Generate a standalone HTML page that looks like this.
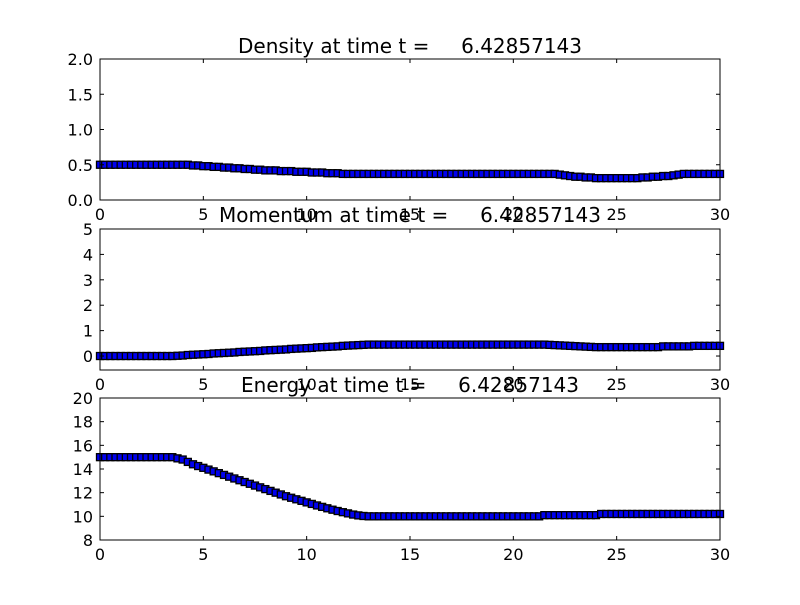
<!DOCTYPE html>
<html><head><meta charset="utf-8"><style>
body{margin:0;background:#fff}
svg text{font-family:"DejaVu Sans","Liberation Sans",sans-serif;fill:#000}
</style></head><body>
<svg id="c" width="800" height="600" xmlns="http://www.w3.org/2000/svg"></svg>
<script>
const density=[0.5,0.5,0.5,0.5,0.5,0.5,0.5,0.5,0.5,0.5,0.5,0.5,0.5,0.5,0.5,0.5,
0.50,0.50,0.49,0.49,0.48,0.48,0.47,0.47,0.46,0.46,0.45,0.45,0.44,0.44,0.43,0.43,0.42,0.42,0.42,0.41,0.41,0.41,0.40,0.40,0.40,0.39,0.39,0.39,0.38,0.38,0.38,0.37,0.37,
0.37,0.37,0.37,0.37,0.37,0.37,0.37,0.37,0.37,0.37,0.37,0.37,0.37,0.37,0.37,0.37,0.37,0.37,0.37,0.37,0.37,0.37,0.37,0.37,0.37,0.37,0.37,0.37,0.37,0.37,0.37,0.37,0.37,0.37,0.37,0.37,0.37,0.37,0.37,0.37,
0.36,0.35,0.34,0.33,0.33,0.32,0.32,0.31,
0.31,0.31,0.31,0.31,0.31,0.31,0.31,0.31,
0.32,0.32,0.33,0.33,0.34,0.34,0.35,0.36,
0.37,0.37,0.37,0.37,0.37,0.37,0.37,0.37];
const momentum=[0,0,0,0,0,0,0,0,0,0,0,0,0,0,0,
0.01,0.02,0.04,0.05,0.06,0.07,0.08,0.10,0.11,0.12,0.13,0.14,0.16,0.17,0.18,0.19,0.20,0.22,0.23,0.24,0.25,0.26,0.28,0.29,0.30,0.31,0.32,0.34,0.35,0.36,0.37,0.38,0.40,0.41,0.42,0.43,0.44,0.45,
0.45,0.45,0.45,0.45,0.45,0.45,0.45,0.45,0.45,0.45,0.45,0.45,0.45,0.45,0.45,0.45,0.45,0.45,0.45,0.45,0.45,0.45,0.45,0.45,0.45,0.45,0.45,0.45,0.45,0.45,0.45,0.45,0.45,0.45,
0.44,0.43,0.42,0.41,0.40,0.39,0.38,0.37,0.36,0.35,
0.35,0.35,0.35,0.35,0.35,0.35,0.35,0.35,0.35,0.35,0.35,0.35,
0.38,0.38,0.38,0.38,0.38,0.38,0.40,0.40,0.40,0.40,0.40,0.40];
const energy=[15,15,15,15,15,15,15,15,15,15,15,15,15,15,15,
14.9,14.8,14.6,14.4,14.25,14.1,13.95,13.8,13.65,13.5,13.35,13.2,13.05,12.9,12.75,12.6,12.45,12.3,12.15,12.0,11.85,11.7,11.57,11.44,11.31,11.18,11.05,10.92,10.8,10.68,10.56,10.45,10.35,10.25,10.15,10.08,10.03,10.0,
10,10,10,10,10,10,10,10,10,10,10,10,10,10,10,10,10,10,10,10,10,10,10,10,10,10,10,10,10,10,10,10,10,
10.1,10.1,10.1,10.1,10.1,10.1,10.1,10.1,10.1,10.1,10.1,
10.2,10.2,10.2,10.2,10.2,10.2,10.2,10.2,10.2,10.2,10.2,10.2,10.2,10.2,10.2,10.2,10.2,10.2,10.2,10.2,10.2,10.2,10.2,10.2];
const xTicks=[0,5,10,15,20,25,30];
const yTicks1=["0.0","0.5","1.0","1.5","2.0"];
const yTicks2=["0","1","2","3","4","5"];
const yTicks3=["8","10","12","14","16","18","20"];
const titles=["Density at time t =     6.42857143","Momentum at time t =     6.42857143","Energy at time t =     6.42857143"];

const svg=document.getElementById('c');
const NS='http://www.w3.org/2000/svg';
function mk(tag,attrs,parent){const e=document.createElementNS(NS,tag);for(const k in attrs)e.setAttribute(k,attrs[k]);(parent||svg).appendChild(e);return e;}
const X0=100,X1=720;
const panels=[
 {name:'density',data:density,top:59,bot:200,ymin:0,ymax:2,ticks:yTicks1,title:titles[0],ty:53},
 {name:'momentum',data:momentum,top:229,bot:370,ymin:-0.55,ymax:5,ticks:yTicks2,title:titles[1],ty:222},
 {name:'energy',data:energy,top:398,bot:540,ymin:8,ymax:20,ticks:yTicks3,title:titles[2],ty:392}];
panels.forEach(p=>{
 const g=mk('g',{});
 
 
 const sx=v=>X0+(v-0)/(30-0)*(X1-X0);
 const sy=v=>p.bot-(v-p.ymin)/(p.ymax-p.ymin)*(p.bot-p.top);
 const ser=mk('g',{},g);
 
 
 const n=p.data.length;
 p.data.forEach((v,i)=>{
  const x=sx(i*30/(n-1)),y=sy(v);
  const r=mk('rect',{x:x-3.5,y:y-3.5,width:7,height:7,fill:'#0000ee',stroke:'#000','stroke-width':1.3},ser);
  
  
 });
 const fr=mk('rect',{x:X0,y:p.top,width:X1-X0,height:p.bot-p.top,fill:'none',stroke:'#000','stroke-width':1},g);
 
 
 xTicks.forEach(t=>{
  const x=sx(t);
  mk('line',{x1:x,x2:x,y1:p.bot,y2:p.bot-4,stroke:'#000'},g);
  mk('line',{x1:x,x2:x,y1:p.top,y2:p.top+4,stroke:'#000'},g);
  const tx=mk('text',{x:x,y:p.bot+20,'font-size':16,'text-anchor':'middle'},g);
  tx.textContent=t;
  
  
 });
 p.ticks.forEach(t=>{
  const y=sy(parseFloat(t));
  mk('line',{x1:X0,x2:X0+4,y1:y,y2:y,stroke:'#000'},g);
  mk('line',{x1:X1,x2:X1-4,y1:y,y2:y,stroke:'#000'},g);
  const tx=mk('text',{x:X0-7,y:y+6,'font-size':16,'text-anchor':'end'},g);
  tx.textContent=t;
  
  
 });
 const tt=mk('text',{x:410,y:p.ty,'font-size':20,'text-anchor':'middle','xml:space':'preserve'},g);
 tt.style.whiteSpace='pre';
 tt.textContent=p.title;
 
 
});
</script>
</body></html>
